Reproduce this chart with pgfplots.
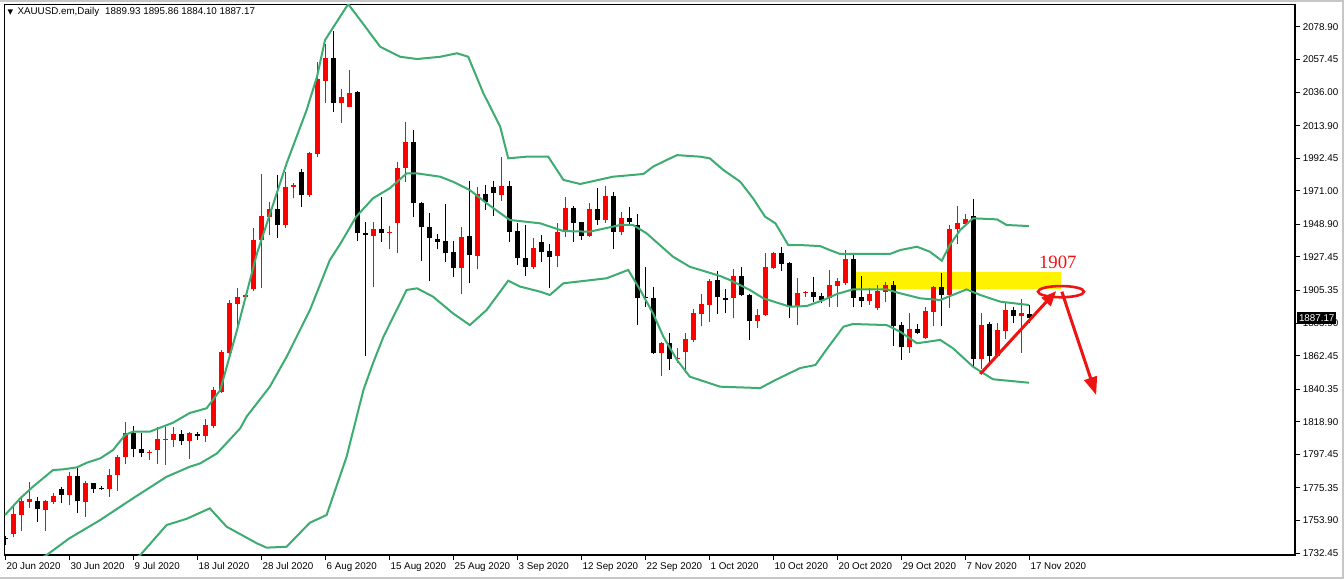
\documentclass[border=0pt]{standalone}
\usepackage{fontspec}
\setmainfont{Liberation Sans}
\newfontfamily\symfont{DejaVu Sans}
\newfontfamily\numserif{Liberation Serif}
\usepackage{pgfplots}
\pgfplotsset{compat=1.18}
\usepackage{pgfplotstable}
\usetikzlibrary{arrows.meta}

\definecolor{band}{RGB}{60,172,112}
\definecolor{bull}{RGB}{255,0,0}
\definecolor{annot}{RGB}{238,20,20}

% daily candles, x = bar number (8 bars between date labels)
\pgfplotstableread{
x o h l c
1 1745.0 1763.0 1742.8 1758.2
2 1757.5 1769.5 1747.2 1766.7
3 1766.3 1779.4 1761.9 1767.8
5 1760.8 1767.5 1747.2 1766.9
6 1766.0 1771.8 1764.7 1770.0
8 1770.7 1786.0 1763.9 1783.2
10 1766.3 1780.1 1756.2 1778.8
13 1774.4 1787.6 1769.5 1783.8
14 1783.8 1797.0 1773.5 1795.9
15 1795.5 1818.8 1791.1 1811.3
18 1798.1 1800.3 1793.7 1799.2
19 1800.3 1815.3 1791.1 1807.4
20 1807.0 1815.3 1790.4 1807.7
21 1806.9 1815.3 1802.5 1810.9
23 1806.4 1812.4 1794.6 1811.7
25 1809.6 1820.5 1805.8 1816.8
26 1816.1 1842.0 1814.9 1839.8
27 1838.8 1866.2 1838.1 1865.1
28 1864.0 1899.1 1862.9 1896.9
29 1896.5 1906.8 1878.9 1900.9
30 1900.9 1903.0 1900.0 1902.4
31 1906.1 1946.3 1905.2 1938.6
32 1938.6 1982.1 1906.8 1954.4
33 1954.0 1963.9 1941.9 1958.8
35 1948.7 1983.6 1946.3 1973.3
36 1973.3 1976.0 1966.1 1975.0
38 1968.2 1996.8 1966.7 1995.7
39 1995.3 2056.1 1993.1 2044.5
40 2043.5 2067.7 2029.0 2058.3
42 2029.0 2037.9 2015.9 2032.6
43 2026.0 2050.6 2026.0 2035.6
46 1941.4 1950.7 1907.5 1945.8
48 1943.4 1947.8 1932.5 1944.1
49 1949.6 1990.2 1929.9 1985.8
50 1985.8 2016.1 1977.0 2003.0
57 1920.0 1947.0 1903.1 1940.8
59 1928.3 1973.3 1919.3 1968.9
62 1968.2 1993.1 1964.6 1974.2
66 1921.0 1939.7 1919.3 1933.5
69 1928.0 1949.6 1920.7 1944.1
70 1944.1 1966.7 1940.4 1959.5
73 1941.2 1963.2 1940.4 1958.8
75 1951.7 1974.2 1950.0 1967.6
77 1944.1 1956.9 1941.9 1952.9
82 1864.0 1871.5 1849.1 1871.0
84 1860.0 1867.3 1857.4 1860.7
85 1865.1 1877.5 1850.8 1873.2
86 1872.8 1893.0 1871.7 1890.4
87 1889.9 1903.1 1881.8 1896.5
88 1896.1 1913.2 1884.8 1911.6
91 1900.6 1919.4 1887.0 1914.9
94 1885.5 1892.9 1880.4 1889.2
95 1889.2 1929.9 1888.5 1921.0
96 1920.0 1930.5 1919.3 1930.3
99 1895.2 1913.5 1882.6 1904.0
100 1903.6 1905.3 1901.3 1904.6
103 1900.2 1918.8 1894.7 1908.8
104 1908.3 1913.5 1894.7 1911.8
105 1910.5 1932.0 1908.8 1925.9
108 1898.7 1906.8 1896.1 1903.1
109 1893.6 1908.8 1892.5 1905.2
110 1904.6 1911.2 1898.0 1909.0
113 1868.3 1890.3 1864.4 1879.8
115 1873.8 1894.7 1873.2 1892.0
116 1891.4 1908.3 1882.0 1907.9
118 1902.4 1948.5 1893.6 1945.6
119 1945.6 1961.0 1935.9 1949.6
120 1949.1 1955.8 1948.5 1952.2
122 1860.0 1890.8 1853.5 1882.6
124 1862.2 1884.1 1861.3 1879.3
125 1878.9 1897.3 1873.2 1892.5
127 1888.5 1899.6 1864.4 1890.7
}\upbars

\pgfplotstableread{
x o h l c
0 1742.5 1744.0 1738.0 1741.5
4 1766.9 1769.1 1753.1 1761.3
7 1774.4 1775.7 1765.6 1770.7
9 1783.2 1788.2 1759.0 1766.9
11 1778.4 1778.8 1772.2 1774.8
12 1775.5 1776.6 1774.2 1774.4
16 1811.7 1816.1 1795.5 1801.2
17 1800.8 1811.3 1795.9 1798.1
22 1810.9 1813.5 1803.4 1806.3
24 1810.9 1812.4 1806.9 1809.6
34 1958.8 1981.4 1939.7 1948.7
37 1983.6 1985.2 1960.6 1968.2
41 2058.3 2076.5 2023.1 2028.6
44 2036.3 2036.8 1938.1 1943.4
45 1943.4 1950.7 1862.2 1941.9
47 1945.8 1966.7 1937.5 1943.4
51 2003.0 2011.1 1954.0 1963.2
52 1963.2 1963.6 1925.0 1947.0
53 1947.0 1956.2 1911.7 1939.7
54 1939.3 1942.4 1932.5 1937.5
55 1938.0 1962.5 1924.4 1930.3
56 1930.7 1938.0 1914.4 1920.0
58 1941.2 1977.7 1910.0 1928.7
60 1968.9 1974.9 1958.4 1963.9
61 1973.3 1977.7 1954.4 1969.4
63 1974.2 1977.7 1937.5 1944.1
64 1944.5 1949.6 1922.1 1926.5
65 1926.5 1948.5 1915.2 1921.0
67 1937.5 1941.9 1924.4 1930.9
68 1931.6 1936.0 1906.8 1927.6
71 1959.5 1961.0 1937.5 1950.0
72 1950.2 1950.7 1938.6 1941.2
74 1958.8 1972.6 1948.5 1951.7
76 1967.6 1970.4 1932.9 1944.1
78 1952.9 1960.1 1948.5 1950.7
79 1948.5 1955.8 1882.6 1900.2
80 1900.9 1920.7 1894.7 1900.2
81 1900.2 1907.5 1863.5 1864.4
83 1871.0 1877.1 1852.9 1860.0
89 1912.0 1917.9 1889.9 1901.1
90 1900.2 1906.1 1890.4 1899.1
92 1914.9 1921.0 1901.7 1902.4
93 1902.4 1902.8 1872.8 1885.5
97 1930.3 1934.2 1918.4 1922.8
98 1923.7 1924.0 1887.0 1895.2
101 1904.6 1914.4 1898.0 1901.3
102 1901.7 1903.5 1896.9 1899.1
106 1925.9 1928.8 1894.7 1900.6
107 1901.3 1915.1 1894.3 1898.7
111 1909.0 1911.8 1868.8 1881.9
112 1882.6 1884.8 1859.6 1867.9
114 1879.8 1883.3 1876.7 1877.6
117 1907.9 1916.7 1882.0 1902.4
121 1954.6 1965.5 1854.1 1860.0
123 1883.3 1884.8 1856.3 1862.2
126 1892.5 1894.7 1884.1 1888.5
128 1889.93 1895.86 1884.10 1887.17
}\downbars

% Bollinger bands
\pgfplotstableread{
x y
0 1757.5
1.9 1768.5
3.5 1776.2
6.0 1787.1
7.3 1787.6
9.0 1788.9
10.2 1791.9
11.9 1794.8
13.5 1800.3
15.0 1810.2
16.0 1812.4
18.1 1812.4
21.0 1818.3
23.1 1824.7
25.2 1827.8
26.9 1839.8
29.0 1879.3
31.5 1929.9
35.2 1989.1
37.7 2024.2
39.0 2046.2
40.0 2070.3
42.9 2094.0
44.4 2083.5
46.9 2065.9
49.4 2059.3
51.5 2057.8
54.4 2059.3
56.5 2061.6
57.9 2059.3
59.8 2035.2
61.9 2013.2
62.9 1992.4
65.2 1993.5
67.9 1993.5
69.8 1978.2
71.9 1975.5
76.0 1980.3
79.8 1982.1
81.0 1986.9
82.7 1991.3
84.0 1994.5
86.9 1993.5
88.1 1992.4
89.8 1984.7
91.9 1977.0
93.5 1966.1
95.0 1954.0
96.3 1949.6
97.9 1935.3
99.4 1935.3
101.9 1934.6
103.1 1932.0
104.4 1929.4
110.6 1929.4
111.9 1932.0
114.0 1934.2
115.6 1930.9
117.1 1925.0
118.1 1935.3
119.4 1945.2
121.0 1952.9
124.0 1952.2
125.2 1948.5
128.0 1947.8
}\upperband

\pgfplotstableread{
x y
0 1716.0
5.2 1731.1
8.0 1742.0
11.9 1754.2
16.0 1768.5
20.2 1782.7
23.1 1789.3
24.4 1791.5
26.5 1798.1
29.4 1814.6
30.2 1822.3
33.1 1842.0
35.2 1861.7
38.1 1892.3
40.6 1925.4
41.9 1936.0
43.9 1954.0
46.0 1966.1
48.1 1972.7
50.2 1982.5
51.5 1982.5
54.4 1980.3
56.0 1977.0
58.1 1971.5
60.2 1962.8
63.1 1951.8
66.9 1949.6
69.8 1944.5
73.1 1944.1
76.9 1948.5
78.5 1948.5
80.2 1943.0
83.5 1927.6
85.6 1921.0
89.4 1914.9
90.6 1912.3
93.1 1905.7
94.8 1900.2
98.1 1894.7
100.2 1895.1
102.3 1899.1
104.0 1903.1
106.0 1906.1
110.2 1906.1
111.9 1903.5
114.4 1900.2
116.9 1899.1
120.2 1906.1
121.9 1902.4
124.4 1898.0
128.0 1895.8
}\middleband

\pgfplotstableread{
x y
12.0 1712.0
16.9 1731.1
20.2 1750.9
22.7 1755.0
25.6 1761.9
27.7 1749.8
31.5 1738.8
32.7 1736.0
35.2 1736.6
38.1 1752.4
40.2 1757.5
42.7 1795.9
44.8 1839.8
46.0 1857.5
47.3 1874.9
50.2 1905.7
51.5 1906.8
53.5 1901.3
56.0 1890.3
58.1 1882.6
60.2 1892.5
62.9 1911.8
64.4 1907.9
66.9 1904.6
68.1 1902.4
69.8 1910.1
75.2 1913.4
77.9 1918.9
79.4 1905.7
81.0 1890.3
82.3 1874.9
84.0 1859.6
85.6 1848.6
89.4 1842.0
94.4 1841.1
96.3 1846.4
99.4 1854.3
101.3 1856.3
102.7 1866.6
104.8 1881.5
106.0 1883.3
110.2 1882.6
111.9 1878.2
114.0 1870.6
116.9 1872.8
118.5 1867.3
121.0 1855.2
123.5 1846.9
128.0 1844.6
}\lowerband

\begin{document}
\begin{tikzpicture}
\useasboundingbox (0,0) rectangle (672pt,289.5pt);
\fill[white] (0,0) rectangle (672pt,289.5pt);
\draw[black!22, line width=1pt] (0,289pt) -- (671.5pt,289pt) -- (671.5pt,0.5pt) -- (0,0.5pt);
\begin{axis}[
  at={(2.35pt,12pt)}, anchor=south west,
  width=645.15pt, height=275.25pt, scale only axis,
  xmin=-0.04, xmax=161.25, ymin=1731.16, ymax=2093.72,
  clip mode=individual,
  axis line style={black, line width=0.6pt},
  xtick={0,8,...,128},
  xticklabels={20 Jun 2020, 30 Jun 2020, 9 Jul 2020, 18 Jul 2020, 28 Jul 2020, 6 Aug 2020, 15 Aug 2020, 25 Aug 2020, 3 Sep 2020, 12 Sep 2020, 22 Sep 2020, 1 Oct 2020, 10 Oct 2020, 20 Oct 2020, 29 Oct 2020, 7 Nov 2020, 17 Nov 2020},
  ytick={1732.45,1753.90,1775.35,1797.45,1818.90,1840.35,1862.45,1883.90,1905.35,1927.45,1948.90,1971.00,1992.45,2013.90,2036.00,2057.45,2078.90},
  xtick pos=bottom, ytick pos=right, tick align=outside,
  major tick length=2.5pt,
  tick style={black, line width=0.5pt},
  ticklabel style={font=\fontsize{4.9}{5.5}\selectfont, inner sep=0pt},
  xticklabel style={anchor=north west, xshift=0.6pt, yshift=-1.2pt},
  yticklabel style={anchor=west, xshift=1.2pt,
    /pgf/number format/.cd, fixed, fixed zerofill, precision=2, 1000 sep={}, assume math mode=true},
]
% resistance zone
\fill[yellow] (axis cs:106.4,1906.15) rectangle (axis cs:132,1917.35);

% wicks
\addplot[draw=none, mark=none, forget plot, error bars/.cd, y dir=plus, y explicit, error mark=none,
  error bar style={line width=0.5pt, draw=bull}]
  table[x=x, y=l, y error expr=\thisrow{h}-\thisrow{l}] {\upbars};
\addplot[draw=none, mark=none, forget plot, error bars/.cd, y dir=plus, y explicit, error mark=none,
  error bar style={line width=0.5pt, draw=black}]
  table[x=x, y=l, y error expr=\thisrow{h}-\thisrow{l}] {\downbars};
% bodies
\addplot[draw=none, mark=none, forget plot, error bars/.cd, y dir=plus, y explicit, error mark=none,
  error bar style={line width=2.5pt, draw=bull}]
  table[x=x, y=o, y error expr=\thisrow{c}-\thisrow{o}] {\upbars};
\addplot[draw=none, mark=none, forget plot, error bars/.cd, y dir=plus, y explicit, error mark=none,
  error bar style={line width=2.5pt, draw=black}]
  table[x=x, y=c, y error expr=\thisrow{o}-\thisrow{c}] {\downbars};

% bands
\addplot[band, line width=1pt, mark=none] table[x=x, y=y] {\upperband};
\addplot[band, line width=1pt, mark=none] table[x=x, y=y] {\middleband};
\addplot[band, line width=1pt, mark=none] table[x=x, y=y] {\lowerband};

% annotations
\node[text=annot, font=\numserif\fontsize{9.4}{10}\selectfont, inner sep=0pt] at (axis cs:131.6,1923.8) {1907};
\draw[annot, line width=1.3pt] (axis cs:132,1904.6) ellipse [x radius=11.5pt, y radius=2.8pt];
\draw[annot, line width=1.5pt, -{Triangle[length=7.5pt,width=6pt]}] (axis cs:121.9,1850.4) -- (axis cs:131.4,1905.0);
\draw[annot, line width=1.5pt, -{Triangle[length=9pt,width=6.5pt]}] (axis cs:132.1,1904.6) -- (axis cs:136.4,1836.5);

% last price label
\node[fill=black, text=white, anchor=west, inner xsep=1pt, inner ysep=0pt, minimum height=6pt,
  font=\fontsize{4.9}{5.5}\selectfont] at (axis cs:161.25,1887.17) [xshift=0.8pt] {1887.17};
\end{axis}
\node[anchor=west, inner sep=0pt, font=\fontsize{4.9}{5.5}\selectfont] at (3.6pt,283.3pt)
  {{\symfont\fontsize{3.6}{4}\selectfont ▼}\hspace{2.2pt}XAUUSD.em,Daily\hspace{3pt}1889.93 1895.86 1884.10 1887.17};
\end{tikzpicture}
\end{document}
